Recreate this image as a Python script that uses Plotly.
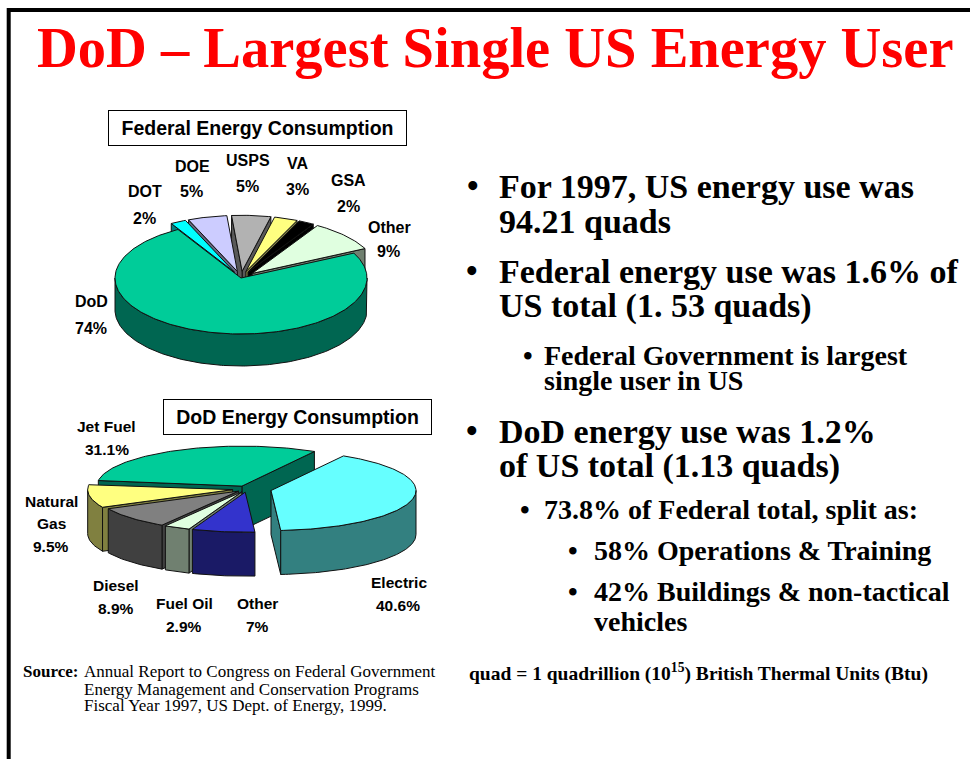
import math
import plotly.graph_objects as go

# ---------------- data ----------------
fed_labels = ["DoD", "Other", "GSA", "VA", "USPS", "DOE", "DOT"]
fed_values = [74, 9, 2, 3, 5, 5, 2]

dod_labels = ["Jet Fuel", "Natural Gas", "Diesel", "Fuel Oil", "Other", "Electric"]
dod_values = [31.1, 9.5, 8.9, 2.9, 7, 40.6]

title_text = "DoD – Largest Single US Energy User"
fed_title = "Federal Energy Consumption"
dod_title = "DoD Energy Consumption"

main_lines = ["For 1997, US energy use was", "94.21 quads",
              "Federal energy use was 1.6% of", "US total (1. 53 quads)",
              "DoD energy use was 1.2%", "of US total (1.13 quads)"]
sub_lines = ["Federal Government is largest", "single user in US",
             "73.8% of Federal total, split as:"]
subsub_lines = ["58% Operations &amp; Training", "42% Buildings &amp; non-tactical",
                "vehicles"]
note_text = "quad = 1 quadrillion (10<sup>15</sup>) British Thermal Units (Btu)"
source_head = "Source:"
source_lines = ["Annual Report to Congress on Federal Government",
                "Energy Management and Conservation Programs",
                "Fiscal Year 1997, US Dept. of Energy, 1999."]

# ---------------- styles / layout ----------------
W, H = 970, 759
SERIF = "Liberation Serif, Times New Roman, serif"
SANS = "Liberation Sans, Arial, sans-serif"

fed_top = {"DoD": "#00CC99", "Other": "#E0FFE0", "GSA": "#000000", "VA": "#FFFF80",
           "USPS": "#B2B2B2", "DOE": "#CCCCFF", "DOT": "#00FFFF"}
fed_side = {"DoD": "#006651", "Other": "#708070", "GSA": "#000000", "VA": "#808040",
            "USPS": "#595959", "DOE": "#666680", "DOT": "#008080"}
dod_top = {"Jet Fuel": "#00CC99", "Natural Gas": "#FFFF80", "Diesel": "#808080",
           "Fuel Oil": "#E0FFE0", "Other": "#3333CC", "Electric": "#66FFFF"}
dod_side = {"Jet Fuel": "#006651", "Natural Gas": "#808040", "Diesel": "#404040",
            "Fuel Oil": "#708070", "Other": "#1A1A66", "Electric": "#338080"}

fed_geo = dict(cx=241, cy=278, rx=126, ry=56, depth=32, start=120)
fed_explode = {"DoD": 0.0}
fed_explode_default = 0.12
dod_geo = dict(cx=247, cy=489, rx=145, ry=40, depth=44, start=60)
dod_explode = {"Electric": 0.17, "Natural Gas": 0.10}
dod_explode_default = 0.08

fed_label_pos = {"DoD": [(91, 301.7), (91, 328.3)], "Other": [(389, 227.3), (388, 251.7)],
                 "GSA": [(348, 180), (348, 206)], "VA": [(297.5, 163.3), (297.5, 189.3)],
                 "USPS": [(247.5, 160), (247.5, 186)], "DOE": [(192, 166.7), (191.5, 191.7)],
                 "DOT": [(145, 191.7), (144, 218.3)]}
dod_label_pos = {"Jet Fuel": [(106.7, 426), (106.7, 449.3)],
                 "Natural Gas": [(51, 501.7), (51, 523.3), (51, 546.7)],
                 "Diesel": [(116, 585), (116, 608.3)], "Fuel Oil": [(184, 603.3), (183.5, 626.7)],
                 "Other": [(257, 603.3), (257.5, 626.7)], "Electric": [(399, 582.7), (398, 605)]}

fig = go.Figure()


def poly(xs, ys, color):
    fig.add_trace(go.Scatter(x=xs, y=ys, fill="toself", fillcolor=color, mode="lines",
                             line=dict(color="#111111", width=1), hoverinfo="skip",
                             showlegend=False))


def pie3d(labels, values, geo, explode, explode_default, top_c, side_c):
    cx, cy, rx, ry, d = geo["cx"], geo["cy"], geo["rx"], geo["ry"], geo["depth"]
    total = float(sum(values))
    a = geo["start"]
    slices = []
    for lab, v in zip(labels, values):
        span = 360.0 * v / total
        slices.append((lab, a, a + span))
        a += span
    slices.sort(key=lambda s: -math.sin(math.radians((s[1] + s[2]) / 2)))
    for lab, a0, a1 in slices:
        mid = math.radians((a0 + a1) / 2)
        e = explode.get(lab, explode_default)
        ox, oy = cx + e * rx * math.cos(mid), cy - e * ry * math.sin(mid)

        def pt(t, dz=0.0):
            r = math.radians(t)
            return ox + rx * math.cos(r), oy - ry * math.sin(r) + dz

        # visible radial cut faces
        for ang, vis in ((a0, math.cos(math.radians(a0)) > 0), (a1, math.cos(math.radians(a1)) < 0)):
            if vis:
                p_top = pt(ang)
                p_bot = pt(ang, d)
                poly([ox, p_top[0], p_bot[0], ox, ox], [oy, p_top[1], p_bot[1], oy + d, oy],
                     side_c[lab])
        # visible outer wall (front half)
        k0 = math.floor(a0 / 360.0) - 1
        for k in range(k0, k0 + 4):
            s = max(a0, 180 + 360 * k)
            t_end = min(a1, 360 + 360 * k)
            if t_end - s > 0.05:
                n = max(2, int((t_end - s) / 1.0) + 1)
                ts = [s + (t_end - s) * i / (n - 1) for i in range(n)]
                top = [pt(t) for t in ts]
                bot = [pt(t, d) for t in reversed(ts)]
                pts = top + bot + [top[0]]
                poly([p[0] for p in pts], [p[1] for p in pts], side_c[lab])
        # top face
        n = max(2, int((a1 - a0) / 1.0) + 1)
        ts = [a0 + (a1 - a0) * i / (n - 1) for i in range(n)]
        arc = [pt(t) for t in ts]
        xs = [ox] + [p[0] for p in arc] + [ox]
        ys = [oy] + [p[1] for p in arc] + [oy]
        poly(xs, ys, top_c[lab])


pie3d(fed_labels, fed_values, fed_geo, fed_explode, fed_explode_default, fed_top, fed_side)
pie3d(dod_labels, dod_values, dod_geo, dod_explode, dod_explode_default, dod_top, dod_side)

ann = []


def txt(x, y, text, size, family=SERIF, color="black", xanchor="left", bold=True):
    t = f"<b>{text}</b>" if bold else text
    ann.append(dict(x=x, y=y, xref="x", yref="y", text=t, showarrow=False,
                    xanchor=xanchor, yanchor="middle",
                    font=dict(family=family, size=size, color=color)))


# title
txt(495, 48, title_text, 56.5, color="#FF0000", xanchor="center")

# pie labels
for lab, v in zip(fed_labels, fed_values):
    lines = [lab, f"{v:g}%"]
    for (x, y), s in zip(fed_label_pos[lab], lines):
        txt(x, y, s, 16, family=SANS, xanchor="center")
for lab, v in zip(dod_labels, dod_values):
    name_lines = lab.split(" ") if lab == "Natural Gas" else [lab]
    lines = name_lines + [f"{v:g}%"]
    for (x, y), s in zip(dod_label_pos[lab], lines):
        txt(x, y, s, 15.5, family=SANS, xanchor="center")

# chart title boxes
for (bx0, by0, bx1, by1), t in (((107.7, 110, 406.7, 146), fed_title),
                                 ((162.7, 399.3, 431.7, 435), dod_title)):
    ann.append(dict(x=(bx0 + bx1) / 2, y=(by0 + by1) / 2, xref="x", yref="y",
                    text=f"<b>{t}</b>", showarrow=False, xanchor="center", yanchor="middle",
                    width=bx1 - bx0 - 2, height=by1 - by0 - 2, borderpad=0,
                    bordercolor="black", borderwidth=1, bgcolor="white",
                    font=dict(family=SANS, size=19.5, color="black")))

# bullets
main_y = [186, 221, 271, 306, 431, 465.5]
main_bullet = {0: 473, 2: 471.7, 4: 471.5}
for i, (s, y) in enumerate(zip(main_lines, main_y)):
    txt(496.5, y, s, 34)
    if i in main_bullet:
        txt(main_bullet[i], y, "•", 33, xanchor="center")

sub_y = [355.3, 380, 509.7]
sub_bullet = {0: 528, 2: 525}
for i, (s, y) in enumerate(zip(sub_lines, sub_y)):
    txt(541.5, y, s, 28)
    if i in sub_bullet:
        txt(sub_bullet[i], y, "•", 27.5, xanchor="center")

subsub_y = [550.5, 591, 621]
for i, (s, y) in enumerate(zip(subsub_lines, subsub_y)):
    txt(591.5, y, s, 28)
    if i < 2:
        txt(573, y, "•", 27.5, xanchor="center")

txt(467, 672.7, note_text, 19.5)

# source
txt(20.7, 671.7, source_head, 17)
for s, y in zip(source_lines, [671.7, 689.3, 705.7]):
    txt(81.7, y, s, 17, bold=False)

fig.update_layout(
    width=W, height=H, margin=dict(l=0, r=0, t=0, b=0),
    paper_bgcolor="white", plot_bgcolor="white",
    xaxis=dict(range=[0, W], visible=False, fixedrange=True),
    yaxis=dict(range=[H, 0], visible=False, fixedrange=True),
    annotations=ann,
    shapes=[dict(type="rect", xref="x", yref="y", x0=8.7, y0=10, x1=W + 40, y1=H + 40,
                 line=dict(color="black", width=4), fillcolor="rgba(0,0,0,0)")],
    showlegend=False,
)

fig.write_html("out.html", config={"displayModeBar": False},
               post_script="document.body.style.margin='0';document.body.style.overflow='hidden';")
